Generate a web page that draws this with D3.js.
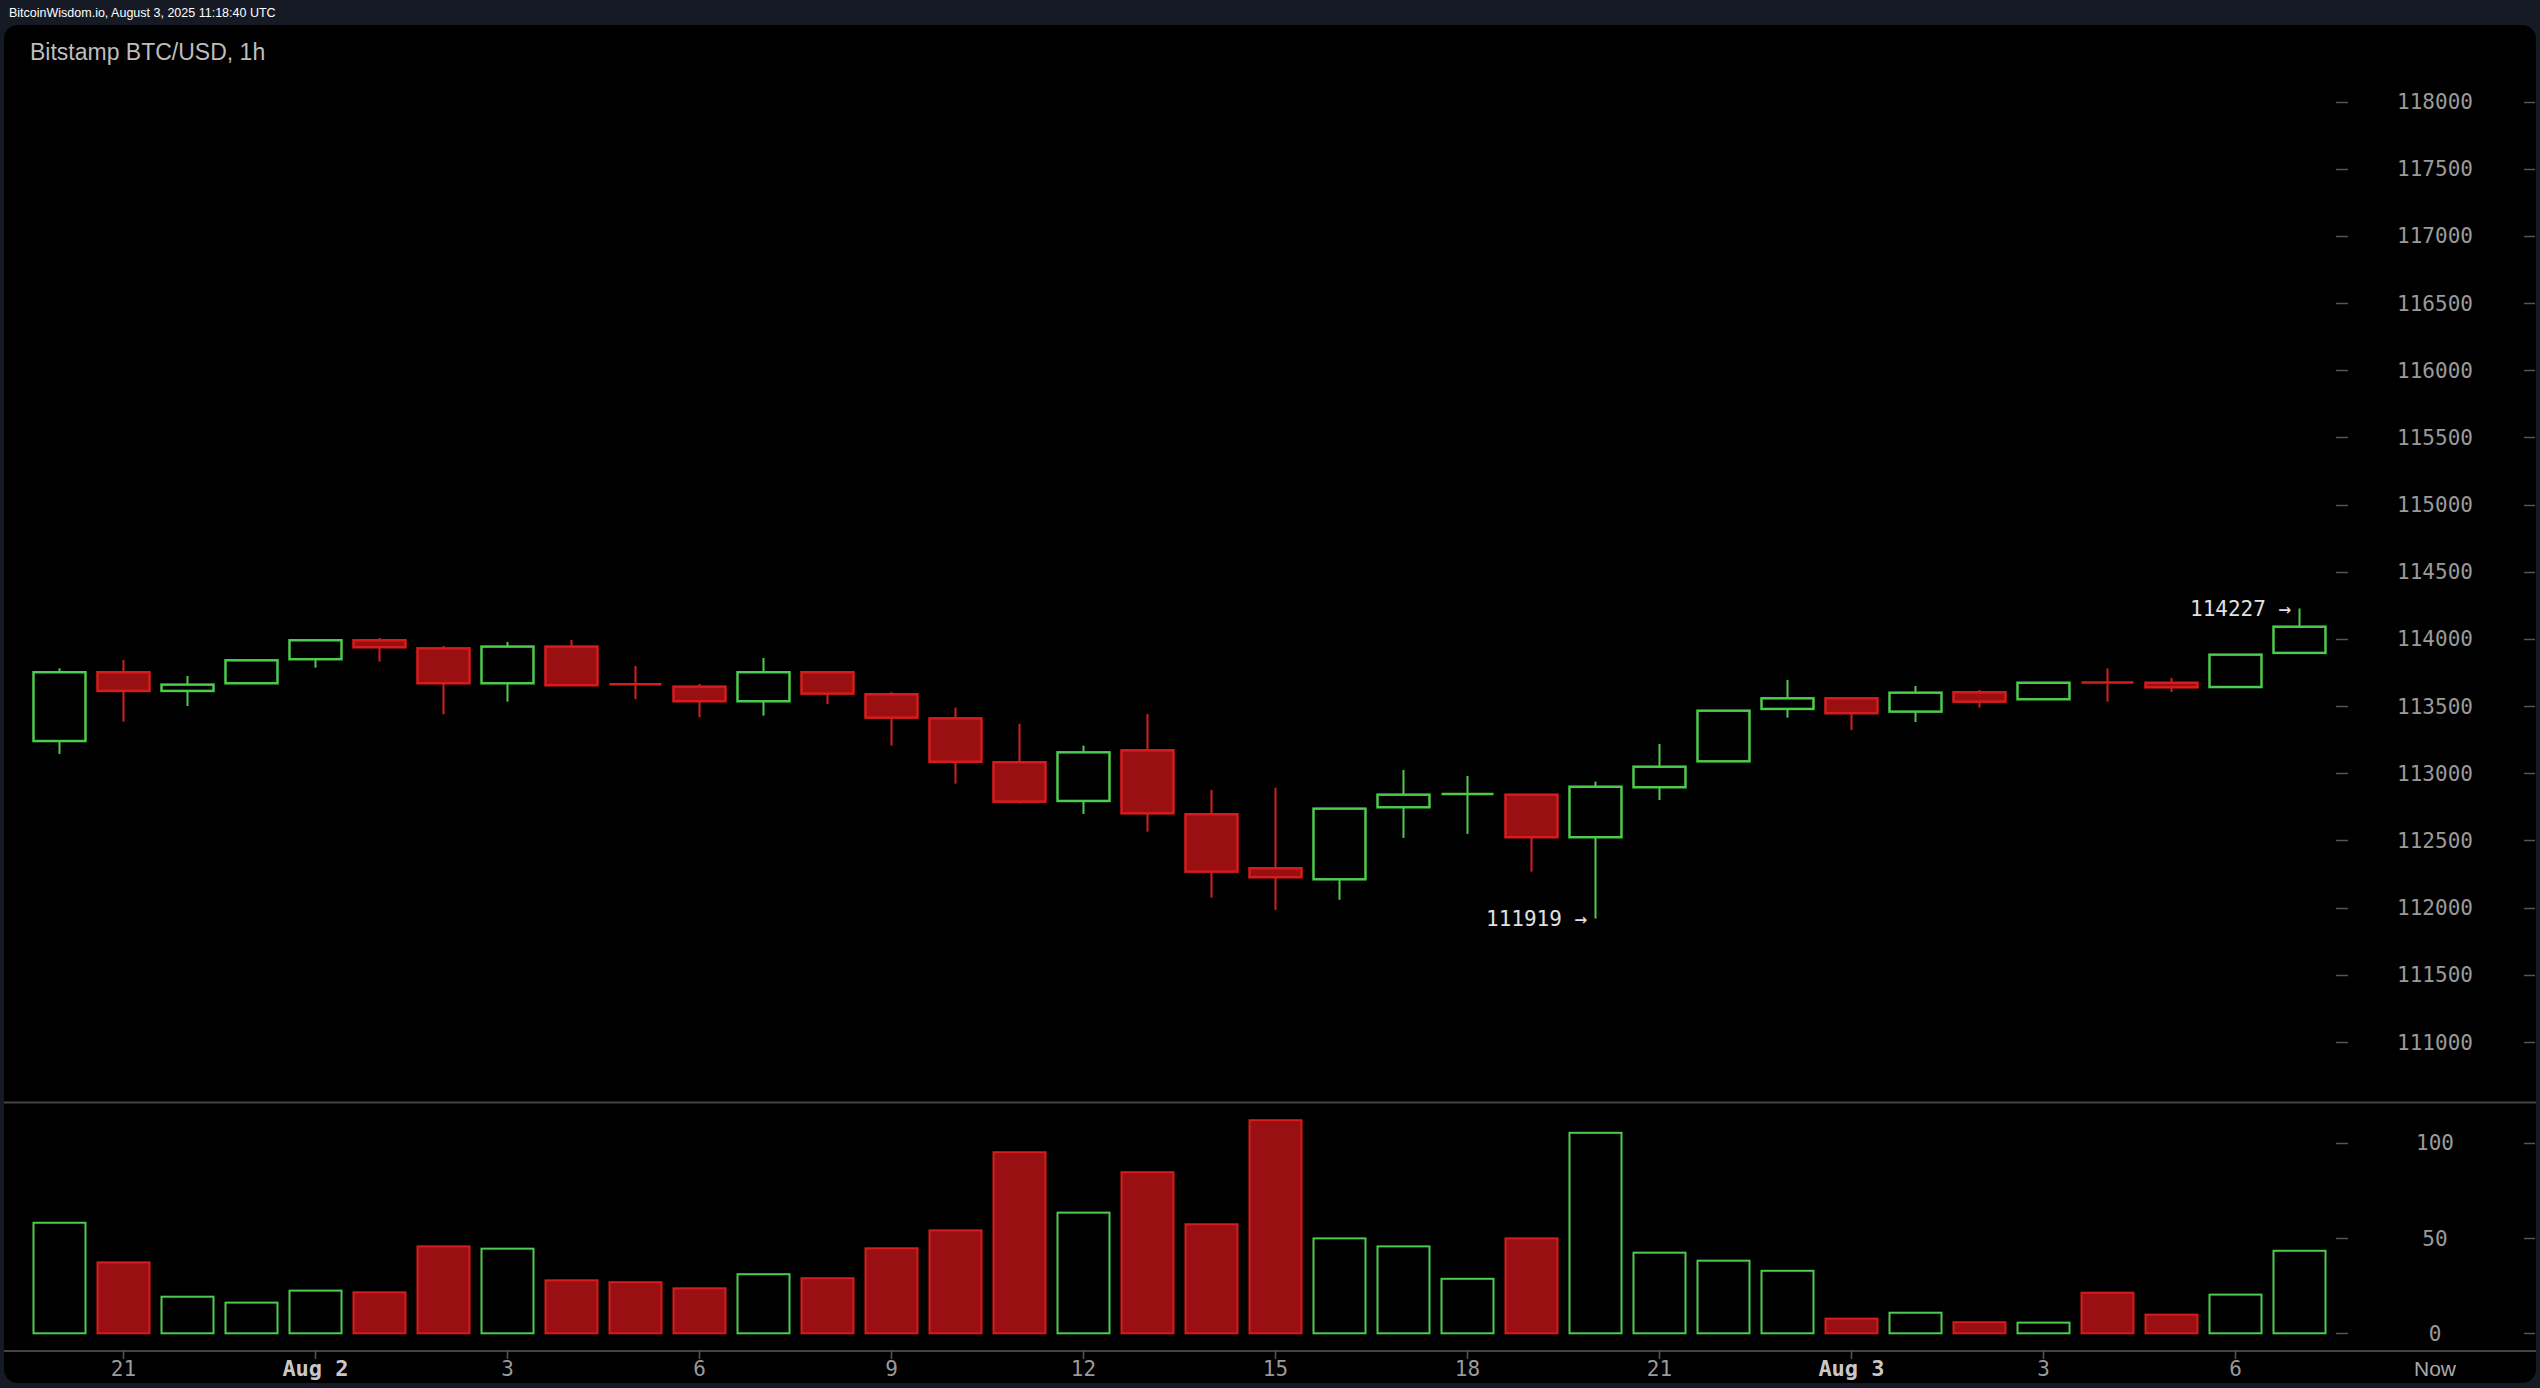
<!DOCTYPE html>
<html><head><meta charset="utf-8">
<script src="https://cdn.jsdelivr.net/npm/d3@7"></script>
<style>
html,body{margin:0;padding:0;background:#161a25;overflow:hidden;}
svg{display:block;}
</style></head>
<body>
<svg id="chart" width="2540" height="1388"></svg>
<script>
// ---- data (hourly candles, Aug 1 20:00 .. Aug 3 07:00) ----
const hours = ["20","21","22","23","00","01","02","03","04","05","06","07","08","09","10","11","12","13","14","15","16","17","18","19","20","21","22","23","00","01","02","03","04","05","06","07"];
const opens  = [113240,113752,113613,113670,113849,113990,113930,113670,113943,113662,113645,113536,113752,113588,113409,113082,112794,113171,112695,112293,112211,112747,112838,112841,112524,112896,113089,113479,113558,113459,113603,113551,113675,113674,113642,113896];
const closes = [113752,113613,113660,113841,113990,113938,113670,113943,113655,113655,113536,113752,113593,113414,113086,112789,113156,112702,112268,112226,112737,112841,112845,112524,112900,113049,113466,113558,113447,113600,113533,113674,113668,113640,113883,114091];
const highs  = [113781,113843,113724,113845,113995,114007,113948,113977,113992,113799,113665,113858,113755,113603,113489,113369,113206,113441,112876,112893,112740,113025,112980,112845,112938,113218,113470,113695,113560,113650,113620,113678,113781,113709,113886,114227];
const lows   = [113144,113384,113501,113665,113786,113831,113439,113533,113650,113551,113417,113429,113516,113206,112923,112777,112697,112566,112074,111983,112059,112519,112549,112268,111919,112801,113085,113414,113322,113382,113489,113548,113533,113605,113639,113893];
const volumes= [58.0,37.2,19.2,16.1,22.4,21.5,45.6,44.4,27.8,26.8,23.6,31.0,28.9,44.6,54.0,95.0,63.3,84.5,57.2,111.8,49.8,45.6,28.6,49.8,105.2,42.3,38.1,32.8,7.7,10.8,5.8,5.6,21.3,9.8,20.3,43.3];
const priceTicks = [111000,111500,112000,112500,113000,113500,114000,114500,115000,115500,116000,116500,117000,117500,118000];
const volumeTicks = [0,50,100];
const xLabelIdx = [1,4,7,10,13,16,19,22,25,28,31,34];
const xLabels   = ["21","Aug 2","3","6","9","12","15","18","21","Aug 3","3","6"];
const nowLabel = "Now";
const markHighIdx = 35, markLowIdx = 24;
const titleText = "Bitstamp BTC/USD, 1h";
const stampText = "BitcoinWisdom.io, August 3, 2025 11:18:40 UTC";

// ---- layout ----
const W = 2540, H = 1388;
const svg = d3.select("#chart");
const GREEN = "#4ccb4c", RED_STROKE = "#d81c1c", RED_FILL = "#9a0f12";
const AXIS_COL = "#9a9a9a";
const FONT_MONO = "'DejaVu Sans Mono', monospace";
const FONT_SANS = "Arial, 'Liberation Sans', sans-serif";

const x = d3.scaleLinear().domain([0, 35]).range([59.2, 2299.2]);
const y = d3.scaleLinear().domain([111000, 118000]).range([1042, 101.5]);
const yv = d3.scaleLinear().domain([0, 100]).range([1333.3, 1142.7]);
const bodyW = 52;
const labelX = 2435;

// background panel
svg.append("rect").attr("x",0).attr("y",0).attr("width",W).attr("height",H).attr("fill","#161a25");
svg.append("rect").attr("x",4).attr("y",25).attr("width",W-8).attr("height",H-30).attr("rx",14).attr("fill","#000");

svg.append("text").attr("x",9).attr("y",17).attr("fill","#fff")
  .attr("font-family",FONT_SANS).attr("font-size",12.5).text(stampText);
svg.append("text").attr("x",30).attr("y",60).attr("fill","#bdbdbd")
  .attr("font-family",FONT_SANS).attr("font-size",23).text(titleText);

// separators
svg.append("line").attr("x1",4).attr("x2",W-4).attr("y1",1102.5).attr("y2",1102.5).attr("stroke","#444").attr("stroke-width",2);
svg.append("line").attr("x1",4).attr("x2",W-4).attr("y1",1351).attr("y2",1351).attr("stroke","#444").attr("stroke-width",2);

// price axis ticks
const pa = svg.append("g");
priceTicks.forEach(t => {
  const yy = Math.round(y(t)) + 0.5;
  pa.append("line").attr("x1",2336).attr("x2",2348).attr("y1",yy).attr("y2",yy).attr("stroke","#555").attr("stroke-width",1.5);
  pa.append("line").attr("x1",2524).attr("x2",2535).attr("y1",yy).attr("y2",yy).attr("stroke","#555").attr("stroke-width",1.5);
  pa.append("text").attr("x",labelX).attr("y",y(t)).attr("dy","0.36em").attr("text-anchor","middle")
    .attr("fill",AXIS_COL).attr("font-family",FONT_MONO).attr("font-size",21).text(t);
});
// volume axis ticks
volumeTicks.forEach(t => {
  const yy = Math.round(yv(t)) + 0.5;
  pa.append("line").attr("x1",2336).attr("x2",2348).attr("y1",yy).attr("y2",yy).attr("stroke","#555").attr("stroke-width",1.5);
  pa.append("line").attr("x1",2524).attr("x2",2535).attr("y1",yy).attr("y2",yy).attr("stroke","#555").attr("stroke-width",1.5);
  pa.append("text").attr("x",labelX).attr("y",yv(t)).attr("dy","0.36em").attr("text-anchor","middle")
    .attr("fill",AXIS_COL).attr("font-family",FONT_MONO).attr("font-size",21).text(t);
});

// candles
const data = opens.map((o,i)=>({i, o, c:closes[i], h:highs[i], l:lows[i], v:volumes[i], up: closes[i] >= o}));
const cg = svg.append("g");
data.forEach(d => {
  const cx = Math.round(x(d.i)) + 0.5;
  const col = d.up ? GREEN : RED_STROKE;
  const top = y(Math.max(d.o,d.c)), bot = y(Math.min(d.o,d.c));
  cg.append("line").attr("x1",cx).attr("x2",cx).attr("y1",y(d.h)).attr("y2",top).attr("stroke",col).attr("stroke-width",2);
  cg.append("line").attr("x1",cx).attr("x2",cx).attr("y1",bot).attr("y2",y(d.l)).attr("stroke",col).attr("stroke-width",2);
  const hgt = Math.max(bot - top, 1);
  if (hgt < 3) {
    cg.append("line").attr("x1",cx-bodyW/2).attr("x2",cx+bodyW/2).attr("y1",top).attr("y2",top).attr("stroke",col).attr("stroke-width",2.5);
  } else {
    cg.append("rect").attr("x",cx-bodyW/2).attr("y",top).attr("width",bodyW).attr("height",hgt)
      .attr("fill", d.up ? "#000" : RED_FILL).attr("stroke",col).attr("stroke-width",2.5);
  }
  // volume
  const vt = yv(d.v), vb = yv(0);
  cg.append("rect").attr("x",cx-bodyW/2).attr("y",vt).attr("width",bodyW).attr("height",vb-vt)
    .attr("fill", d.up ? "#000" : RED_FILL).attr("stroke",col).attr("stroke-width",2);
});

// high/low annotations
const ann = svg.append("g").attr("font-family",FONT_MONO).attr("font-size",21).attr("fill","#e0e0e0");
ann.append("text").attr("x",x(markHighIdx)-8).attr("y",y(highs[markHighIdx])).attr("dy","0.36em")
  .attr("text-anchor","end").text(highs[markHighIdx] + " \u2192");
ann.append("text").attr("x",x(markLowIdx)-8).attr("y",y(lows[markLowIdx])).attr("dy","0.36em")
  .attr("text-anchor","end").text(lows[markLowIdx] + " \u2192");

// x axis
const xa = svg.append("g");
xLabelIdx.forEach((idx,k) => {
  const cx = Math.round(x(idx)) + 0.5;
  const isDay = xLabels[k].startsWith("Aug");
  xa.append("line").attr("x1",cx).attr("x2",cx).attr("y1",1351).attr("y2",1359).attr("stroke","#555").attr("stroke-width",1.5);
  xa.append("text").attr("x",cx).attr("y",1368).attr("dy","0.36em").attr("text-anchor","middle")
    .attr("fill", isDay ? "#c8c8c8" : AXIS_COL).attr("font-weight", isDay ? "bold" : "normal")
    .attr("font-family",FONT_MONO).attr("font-size", isDay ? 22 : 21).text(xLabels[k]);
});
xa.append("text").attr("x",labelX).attr("y",1368).attr("dy","0.36em").attr("text-anchor","middle")
  .attr("fill","#a8a8a8").attr("font-family",FONT_SANS).attr("font-size",21).text(nowLabel);
</script>
</body></html>
